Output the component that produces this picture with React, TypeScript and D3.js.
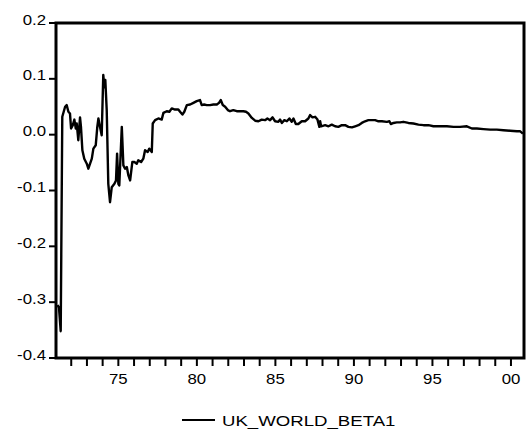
import React from "react";
import * as d3 from "d3";

const years: number[] = [
  71.13, 71.22, 71.33, 71.43, 71.61, 71.71, 71.82, 71.92, 71.99, 72.10, 72.20, 72.29, 72.35, 72.45, 72.56, 72.62,
  72.71, 72.83, 72.99, 73.09, 73.20, 73.31, 73.41, 73.56, 73.66, 73.73, 73.83, 73.94, 74.04, 74.11, 74.17, 74.26,
  74.36, 74.47, 74.58, 74.75, 74.85, 74.92, 75.00, 75.06, 75.22, 75.32, 75.43, 75.54, 75.64, 75.75, 75.89, 76.02,
  76.17, 76.27, 76.45, 76.59, 76.70, 76.87, 76.97, 77.13, 77.19, 77.34, 77.55, 77.76, 77.87, 78.08, 78.25, 78.40,
  78.61, 78.82, 78.93, 79.08, 79.20, 79.36, 79.57, 79.78, 79.99, 80.20, 80.31, 80.46, 80.63, 80.84, 81.05, 81.27,
  81.41, 81.52, 81.65, 81.80, 81.97, 82.11, 82.32, 82.54, 82.75, 82.96, 83.13, 83.28, 83.50, 83.71, 83.92, 84.13,
  84.34, 84.49, 84.66, 84.82, 84.98, 85.19, 85.30, 85.41, 85.57, 85.73, 85.89, 86.04, 86.15, 86.30, 86.46, 86.68,
  86.89, 87.10, 87.21, 87.36, 87.53, 87.68, 87.80, 87.85, 87.91, 88.17, 88.38, 88.59, 88.80, 89.01, 89.23, 89.44,
  89.65, 89.87, 90.08, 90.29, 90.50, 90.71, 90.92, 91.14, 91.35, 91.56, 91.78, 92.10, 92.26, 92.35, 92.52, 92.73,
  92.94, 93.15, 93.47, 93.79, 94.11, 94.43, 94.75, 95.06, 95.49, 95.92, 96.34, 96.76, 97.19, 97.51, 97.83, 98.25,
  98.68, 99.10, 99.52, 99.95, 100.38, 100.59, 100.76,
];

const beta: number[] = [
  -0.305, -0.31, -0.352, 0.032, 0.05, 0.053, 0.041, 0.038, 0.011, 0.017, 0.027, 0.011, 0.02, -0.01, 0.031, 0.014,
  -0.028, -0.043, -0.052, -0.061, -0.052, -0.043, -0.025, -0.019, 0.014, 0.029, 0.014, -0.001, 0.107, 0.085, 0.098, 0.044,
  -0.088, -0.121, -0.094, -0.088, -0.082, -0.034, -0.088, -0.091, 0.014, -0.055, -0.061, -0.058, -0.073, -0.082, -0.049, -0.049,
  -0.052, -0.046, -0.049, -0.043, -0.028, -0.031, -0.025, -0.031, 0.02, 0.026, 0.029, 0.027, 0.039, 0.042, 0.041, 0.047,
  0.045, 0.045, 0.041, 0.036, 0.041, 0.053, 0.054, 0.057, 0.06, 0.062, 0.053, 0.054, 0.053, 0.053, 0.054, 0.054,
  0.057, 0.062, 0.053, 0.05, 0.044, 0.042, 0.044, 0.042, 0.042, 0.042, 0.041, 0.038, 0.03, 0.025, 0.024, 0.027,
  0.026, 0.029, 0.026, 0.031, 0.024, 0.023, 0.027, 0.021, 0.026, 0.024, 0.029, 0.023, 0.029, 0.019, 0.019, 0.024,
  0.024, 0.029, 0.035, 0.031, 0.032, 0.027, 0.014, 0.024, 0.015, 0.017, 0.015, 0.018, 0.015, 0.014, 0.017, 0.017,
  0.014, 0.013, 0.015, 0.017, 0.021, 0.024, 0.026, 0.026, 0.026, 0.024, 0.024, 0.023, 0.024, 0.019, 0.021, 0.022,
  0.022, 0.023, 0.021, 0.02, 0.018, 0.017, 0.017, 0.015, 0.015, 0.015, 0.014, 0.014, 0.015, 0.011, 0.011, 0.01,
  0.009, 0.009, 0.008, 0.007, 0.006, 0.006, 0.002,
];

const yTicks: number[] = [0.2, 0.1, 0.0, -0.1, -0.2, -0.3, -0.4];
const xMinorTicks: number[] = d3.range(72, 101);
const xLabelTicks: number[] = [75, 80, 85, 90, 95, 100];
const xLabels: string[] = ["75", "80", "85", "90", "95", "00"];
const seriesName = "UK_WORLD_BETA1";

const W = 529;
const H = 432;
const left = 56;
const right = 524;
const top = 23;
const bottom = 358;
const FONT = "'Liberation Sans', Arial, sans-serif";

export default function App() {
  const x = d3.scaleLinear().domain([71.03, 100.83]).range([left, right]);
  const y = d3.scaleLinear().domain([-0.4, 0.2]).range([bottom, top]);
  const pts = years.map((yr, i) => [yr, beta[i]] as [number, number]);
  const line = d3
    .line<[number, number]>()
    .x((d) => x(d[0]))
    .y((d) => y(d[1]));

  return (
    <svg
      width={W}
      height={H}
      style={{ position: "absolute", left: 0, top: 0, background: "#fff" }}
    >
      <rect x={0} y={0} width={W} height={H} fill="#fff" />
      {yTicks.map((t) => (
        <g key={"y" + t}>
          <line x1={left - 7} x2={left} y1={y(t)} y2={y(t)} stroke="#000" strokeWidth={2} />
          <text
            transform={`translate(${left - 10},${y(t) + 1.5}) scale(1.2,1)`}
            textAnchor="end"
            fontFamily={FONT}
            fontSize={14}
            fill="#000"
          >
            {d3.format(".1f")(t).replace("−", "-")}
          </text>
        </g>
      ))}
      {xMinorTicks.map((t) => (
        <line key={"x" + t} x1={x(t)} x2={x(t)} y1={bottom} y2={bottom + 8} stroke="#000" strokeWidth={2} />
      ))}
      {xLabelTicks.map((t, i) => (
        <text
          key={"xl" + t}
          transform={`translate(${x(t)},${bottom + 26}) scale(1.2,1)`}
          textAnchor="middle"
          fontFamily={FONT}
          fontSize={14}
          fill="#000"
        >
          {xLabels[i]}
        </text>
      ))}
      <path d={line(pts) || ""} fill="none" stroke="#000" strokeWidth={2.4} strokeLinejoin="round" />
      <rect
        x={left}
        y={top}
        width={right - left}
        height={bottom - top}
        fill="none"
        stroke="#000"
        strokeWidth={3}
      />
      <line x1={182} x2={215} y1={420} y2={420} stroke="#000" strokeWidth={2} />
      <text
        transform={`translate(222,425.5) scale(1.33,1)`}
        fontFamily={FONT}
        fontSize={14}
        fill="#000"
      >
        {seriesName}
      </text>
    </svg>
  );
}
